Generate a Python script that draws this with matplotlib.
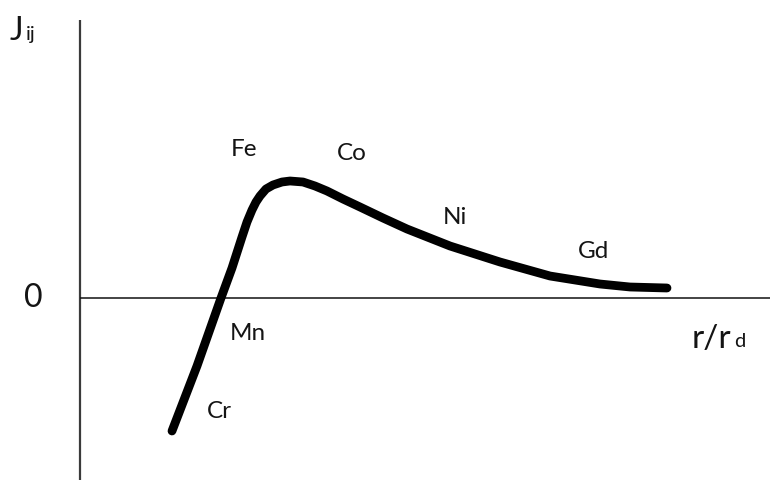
import matplotlib
matplotlib.use("Agg")
import matplotlib.pyplot as plt

# Bethe-Slater style curve (schematic): r/r_d vs J_ij
r_ratio = [0.92, 1.17, 1.41, 1.52, 1.62, 1.67, 1.72, 1.76, 1.80, 1.86, 1.93,
           2.02, 2.10, 2.23, 2.35, 2.47, 2.63, 2.80, 3.03, 3.27, 3.70, 4.20,
           4.70, 5.20, 5.50, 5.87]
J_ij = [-1.33, -0.68, 0.00, 0.30, 0.61, 0.76, 0.88, 0.96, 1.02, 1.09, 1.13,
        1.16, 1.17, 1.16, 1.12, 1.07, 0.99, 0.91, 0.80, 0.69, 0.52, 0.36,
        0.22, 0.14, 0.11, 0.10]

elements = ["Fe", "Co", "Ni", "Gd", "Mn", "Cr"]
elem_x = [1.64, 2.72, 3.75, 5.14, 1.68, 1.39]
elem_y = [1.49, 1.46, 0.82, 0.47, -0.34, -1.13]

FONT = ["Lato", "DejaVu Sans"]
TXT = "#141414"

fig = plt.figure(figsize=(7.7, 4.81), dpi=100)
ax = fig.add_axes([0, 0, 1, 1])
ax.set_xlim(-0.8, 6.9)
ax.set_ylim(-1.82, 2.99)
ax.axis("off")

# axes lines
ax.plot([0, 0], [-1.82, 2.78], color="#3a3a3a", lw=1.6, solid_capstyle="butt")
ax.plot([0, 6.9], [0, 0], color="#111111", lw=1.1, solid_capstyle="butt")

# curve
ax.plot(r_ratio, J_ij, color="black", lw=6.3, solid_capstyle="round",
        solid_joinstyle="round")

# element labels
for name, x, y in zip(elements, elem_x, elem_y):
    ax.text(x, y, name, ha="center", va="center", fontsize=17.5,
            family=FONT, color=TXT)

# axis labels
ax.text(-0.70, 2.59, "J", ha="left", va="baseline", fontsize=23,
        family=FONT, color=TXT)
ax.text(-0.545, 2.59, "ij", ha="left", va="baseline", fontsize=14.5,
        family=FONT, color=TXT)
ax.text(-0.47, 0.01, "0", ha="center", va="center", fontsize=23,
        family=FONT, color=TXT)
ax.text(6.12, -0.49, "r/r", ha="left", va="baseline", fontsize=24,
        family=FONT, color=TXT)
ax.text(6.545, -0.48, "d", ha="left", va="baseline", fontsize=14.5,
        family=FONT, color=TXT)

fig.savefig("out.png", dpi=100)
